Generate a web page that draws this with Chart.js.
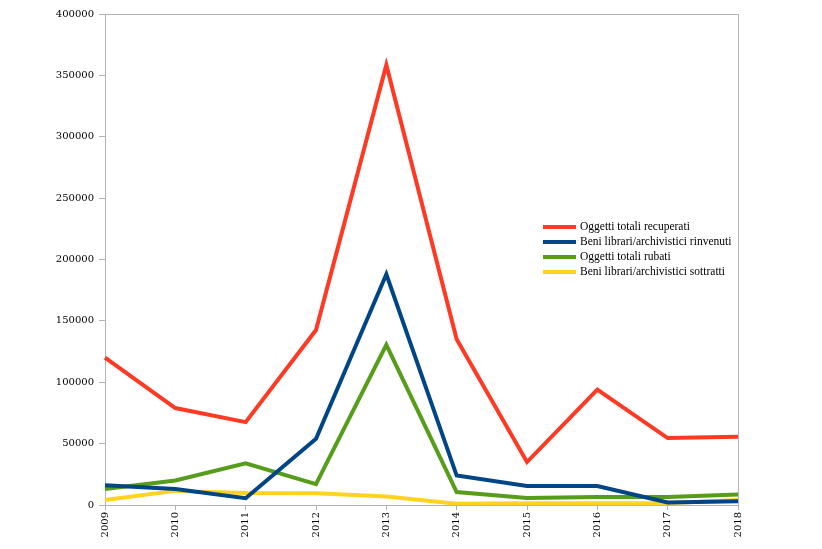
<!DOCTYPE html>
<html>
<head>
<meta charset="utf-8">
<script src="https://cdn.jsdelivr.net/npm/chart.js@4"></script>
<style>
  body { margin: 0; background: #fff; }
  #wrap { width: 822px; height: 549px; }
</style>
</head>
<body>
<div id="wrap"><canvas id="chart" width="822" height="549"></canvas></div>
<script>
const years = ["2009", "2010", "2011", "2012", "2013", "2014", "2015", "2016", "2017", "2018"];
const recuperati = [120000, 79000, 67500, 142500, 358500, 135000, 35000, 94000, 54500, 55500];
const rinvenuti = [16000, 13000, 5500, 54000, 188000, 24000, 15500, 15500, 2000, 3000];
const rubati = [13000, 20000, 34000, 17000, 130500, 10500, 5700, 6500, 6500, 8500];
const sottratti = [4000, 11500, 9800, 9500, 7000, 1000, 1500, 1500, 1500, 4000];
const yTicks = [0, 50000, 100000, 150000, 200000, 250000, 300000, 350000, 400000];

const axisGrey = "#b3b3b3";
const serif = "'DejaVu Serif', 'Liberation Serif', serif";

// legend drawn inside the plot, right-middle
const boxLegend = {
  id: "boxLegend",
  afterDraw(chart) {
    const c = chart.ctx;
    const area = chart.chartArea;
    c.save();
    // frame
    c.strokeStyle = axisGrey;
    c.lineWidth = 1;
    c.beginPath();
    c.moveTo(area.left + 0.5, area.top + 0.5);
    c.lineTo(area.right + 0.5, area.top + 0.5);
    c.lineTo(area.right + 0.5, area.bottom);
    c.stroke();
    c.font = "11.5px 'Liberation Serif', serif";
    c.textBaseline = "middle";
    let y = 227;
    chart.data.datasets.forEach(ds => {
      c.strokeStyle = ds.borderColor;
      c.lineWidth = 4;
      c.beginPath();
      c.moveTo(543, y);
      c.lineTo(576, y);
      c.stroke();
      c.fillStyle = "#000";
      c.fillText(ds.label, 580, y);
      y += 15;
    });
    c.restore();
  }
};

new Chart(document.getElementById("chart"), {
  type: "line",
  data: {
    labels: years,
    datasets: [
      { label: "Oggetti totali recuperati", data: recuperati, borderColor: "#ff3a24" },
      { label: "Beni librari/archivistici rinvenuti", data: rinvenuti, borderColor: "#004586" },
      { label: "Oggetti totali rubati", data: rubati, borderColor: "#579d1c" },
      { label: "Beni librari/archivistici sottratti", data: sottratti, borderColor: "#ffd320" }
    ].map(d => Object.assign(d, { borderWidth: 4, pointRadius: 0, tension: 0, fill: false }))
  },
  options: {
    responsive: false,
    animation: false,
    layout: { padding: { top: 14, right: 84, left: 0, bottom: 0 } },
    plugins: { legend: { display: false }, tooltip: { enabled: false } },
    scales: {
      x: {
        offset: false,
        grid: { drawOnChartArea: false, color: axisGrey, tickLength: 5 },
        border: { color: axisGrey },
        ticks: { color: "#000", font: { family: serif, size: 10 }, minRotation: 90, maxRotation: 90, padding: 2 },
        afterFit(s) { s.height = 44; }
      },
      y: {
        min: 0,
        max: 400000,
        grid: { drawOnChartArea: false, color: axisGrey, tickLength: 6 },
        border: { color: axisGrey },
        afterBuildTicks(s) { s.ticks = yTicks.map(v => ({ value: v })); },
        ticks: { color: "#000", font: { family: serif, size: 10 }, padding: 5, callback: v => String(v) },
        afterFit(s) { s.width = 105; }
      }
    }
  },
  plugins: [boxLegend]
});
</script>
</body>
</html>
